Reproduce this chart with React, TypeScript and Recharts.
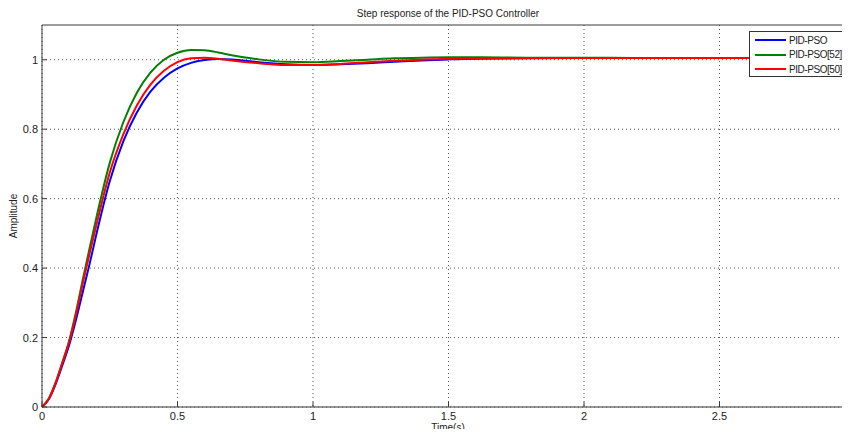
import React from "react";
import {
  LineChart,
  Line,
  XAxis,
  YAxis,
  CartesianGrid,
  ReferenceLine,
} from "recharts";

// time samples (s)
const times = [
  0, 0.025, 0.05, 0.075, 0.1, 0.125, 0.15, 0.175, 0.2, 0.25, 0.3, 0.35, 0.4,
  0.45, 0.5, 0.55, 0.6, 0.65, 0.7, 0.8, 0.9, 1.0, 1.1, 1.2, 1.3, 1.4, 1.5, 1.6,
  1.8, 2.0, 2.2, 2.4, 2.6, 2.8, 3.0,
];

// PID-PSO (blue)
const pidPso = [
  0, 0.022, 0.065, 0.12, 0.178, 0.25, 0.33, 0.41, 0.495, 0.65, 0.765, 0.848,
  0.908, 0.948, 0.975, 0.991, 0.999, 1.002, 1.001, 0.993, 0.987, 0.985, 0.987,
  0.99, 0.994, 0.998, 1.001, 1.003, 1.004, 1.005, 1.005, 1.005, 1.005, 1.005,
  1.005,
];

// PID-PSO[52] (green)
const pidPso52 = [
  0, 0.024, 0.07, 0.128, 0.19, 0.272, 0.365, 0.455, 0.543, 0.703, 0.82, 0.905,
  0.963, 1.0, 1.02, 1.028, 1.027, 1.021, 1.013, 1.001, 0.994, 0.993, 0.996,
  1.0, 1.004, 1.006, 1.007, 1.007, 1.006, 1.006, 1.005, 1.005, 1.005, 1.005,
  1.005,
];

// PID-PSO[50] (red)
const pidPso50 = [
  0, 0.024, 0.069, 0.127, 0.187, 0.265, 0.355, 0.44, 0.522, 0.675, 0.785,
  0.868, 0.928, 0.968, 0.993, 1.004, 1.006, 1.003, 0.998, 0.99, 0.985, 0.985,
  0.988, 0.993, 0.997, 1.0, 1.003, 1.004, 1.005, 1.005, 1.005, 1.005, 1.005,
  1.005, 1.005,
];

const xTicks = [0, 0.5, 1, 1.5, 2, 2.5];
const yTicks = [0, 0.2, 0.4, 0.6, 0.8, 1];

const series = [
  { key: "pso", name: "PID-PSO", color: "#0000ff" },
  { key: "pso52", name: "PID-PSO[52]", color: "#008000" },
  { key: "pso50", name: "PID-PSO[50]", color: "#ff0000" },
];

const data = times.map((t, i) => ({
  t,
  pso: pidPso[i],
  pso52: pidPso52[i],
  pso50: pidPso50[i],
}));

const FONT = "'Liberation Sans', Arial, sans-serif";
const AXIS = "#3a3a3a";

function BottomTick({ x, y, payload }: any) {
  return (
    <g>
      <line x1={x} x2={x} y1={y} y2={y - 5} stroke={AXIS} />
      <text x={x} y={y + 13} textAnchor="middle" fontSize={11} fill="#222" fontFamily={FONT}>
        {payload.value}
      </text>
    </g>
  );
}

function TopTick({ x, y }: any) {
  return <line x1={x} x2={x} y1={y} y2={y + 5} stroke={AXIS} />;
}

function LeftTick({ x, y, payload }: any) {
  return (
    <g>
      <line x1={x} x2={x + 5} y1={y} y2={y} stroke={AXIS} />
      <text x={x - 4} y={y + 4} textAnchor="end" fontSize={11} fill="#222" fontFamily={FONT}>
        {payload.value}
      </text>
    </g>
  );
}

function LegendBox() {
  return (
    <div
      style={{
        position: "absolute",
        left: 749,
        top: 31,
        width: 100,
        height: 46,
        border: "1px solid #333",
        background: "#fff",
        padding: "1px 0 0 5px",
        boxSizing: "border-box",
        fontFamily: FONT,
        fontSize: 10,
        letterSpacing: -0.45,
        color: "#222",
        whiteSpace: "nowrap",
        overflow: "hidden",
      }}
    >
      {series.map((s) => (
        <div key={s.key} style={{ display: "flex", alignItems: "center", height: 14.5 }}>
          <span
            style={{
              display: "inline-block",
              width: 31,
              height: 2,
              background: s.color,
              marginRight: 3,
            }}
          />
          <span>{s.name}</span>
        </div>
      ))}
    </div>
  );
}

export default function App() {
  return (
    <div
      style={{
        margin: -8,
        width: 850,
        height: 437,
        overflow: "hidden",
        background: "#fff",
        position: "relative",
      }}
    >
      <LineChart
        width={862}
        height={437}
        data={data}
        margin={{ top: 25, right: 7, left: 0, bottom: 0 }}
      >
        <CartesianGrid
          stroke="#555"
          strokeDasharray="1 3"
          horizontalValues={yTicks}
          verticalValues={xTicks}
        />
        <XAxis
          dataKey="t"
          type="number"
          domain={[0, 3]}
          ticks={xTicks}
          height={30}
          tickSize={0}
          tickMargin={0}
          tickLine={false}
          axisLine={{ stroke: AXIS }}
          tick={<BottomTick />}
        />
        <XAxis
          xAxisId="top"
          orientation="top"
          dataKey="t"
          type="number"
          domain={[0, 3]}
          ticks={xTicks}
          height={0}
          tickSize={0}
          tickMargin={0}
          tickLine={false}
          axisLine={{ stroke: AXIS }}
          tick={<TopTick />}
        />
        <YAxis
          type="number"
          domain={[0, 1.1]}
          ticks={yTicks}
          width={42}
          tickSize={0}
          tickMargin={0}
          tickLine={false}
          axisLine={{ stroke: AXIS }}
          tick={<LeftTick />}
        />
        <ReferenceLine y={1.1} stroke={AXIS} />
        {series.map((s) => (
          <Line
            key={s.key}
            name={s.name}
            dataKey={s.key}
            type="monotone"
            stroke={s.color}
            strokeWidth={2}
            dot={false}
            isAnimationActive={false}
          />
        ))}
      </LineChart>
      <svg
        width={850}
        height={437}
        style={{ position: "absolute", left: 0, top: 0, pointerEvents: "none" }}
      >
        <text x={448} y={17} textAnchor="middle" fontSize={10} fill="#222" fontFamily={FONT}>
          Step response of the PID-PSO Controller
        </text>
        <text x={448} y={431} textAnchor="middle" fontSize={10} fill="#222" fontFamily={FONT}>
          Time(s)
        </text>
        <text
          x={17}
          y={216}
          textAnchor="middle"
          fontSize={10}
          fill="#222"
          fontFamily={FONT}
          transform="rotate(-90 17 216)"
        >
          Amplitude
        </text>
      </svg>
      <LegendBox />
    </div>
  );
}
